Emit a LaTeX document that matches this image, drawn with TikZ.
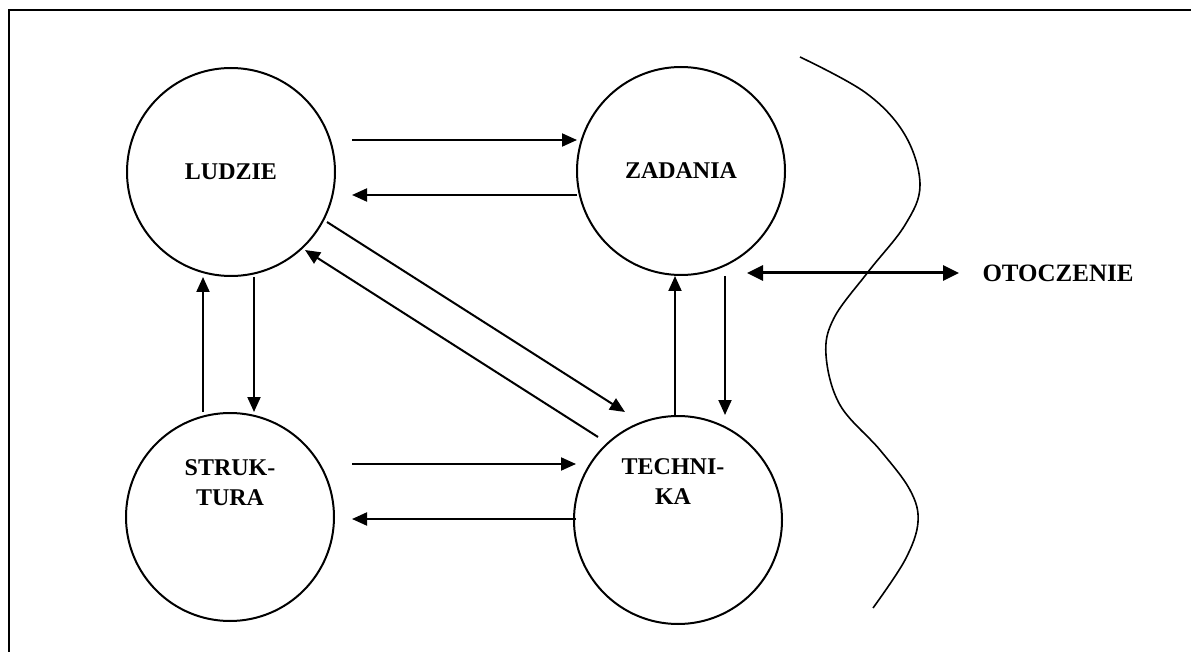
\documentclass[tikz,border=0pt]{standalone}
\usepackage{fontspec}
\setmainfont{Liberation Serif}
\usetikzlibrary{arrows.meta,calc}
\begin{document}
\begin{tikzpicture}[x=1pt,y=-1pt,
  element/.style={circle,draw,line width=2pt,minimum size=208pt,inner sep=0pt},
  caption/.style={align=center,inner sep=0pt,font=\fontsize{24}{30}\selectfont\bfseries},
  flow/.style={line width=2pt,-{Triangle[length=15pt,width=13pt]}},
  link/.style={line width=3pt,{Triangle[length=16pt,width=15pt]}-{Triangle[length=16pt,width=15pt]}}]
\useasboundingbox (0,0) rectangle (1191,652);
% frame edges
\draw[line width=2.2pt] (9,652) -- (9,10) -- (1191,10);

% the four elements
\node[element] (L) at (231,172) {};
\node[element] (Z) at (681,171) {};
\node[element] (S) at (230,517) {};
\node[element] (T) at (678,520) {};
\node[caption] (Lt) at (L.center) {LUDZIE};
\node[caption] (Zt) at (Z.center) {ZADANIA};
\node[caption] (St) at ($(S.center)+(0,-34)$) {STRUK-\\TURA};
\node[caption] (Tt) at ($(T.center)+(-5,-38)$) {TECHNI-\\KA};

% horizontal flows
\draw[flow] ($(L.center)+(121,-32)$) -- ($(Z.center)+(-104,-31)$);
\draw[flow] ($(Z.center)+(-104,24)$) -- ($(L.center)+(121,23)$);
\draw[flow] ($(S.center)+(122,-53)$) -- ($(T.center)+(-102,-56)$);
\draw[flow] ($(T.center)+(-102,-1)$) -- ($(S.center)+(122,2)$);

% vertical flows
\draw[flow] ([xshift=23pt]L.south) -- ([xshift=24pt]S.north);
\draw[flow] ([xshift=-27pt]S.north) -- ([xshift=-28pt]L.south);
\draw[flow] ([xshift=-3pt]T.north) -- ([xshift=-6pt]Z.south);
\draw[flow] ([xshift=44pt]Z.south) -- ([xshift=47pt]T.north);

% diagonal flows
\draw[flow] ($(L.center)+(96,50)$) -- ($(T.center)+(-53,-108)$);
\draw[flow] ($(T.center)+(-80,-83)$) -- ($(L.center)+(74,78)$);

% environment
\coordinate (E) at ($(Z.center)+(66,102)$);
\node[anchor=west,font=\fontsize{25}{30}\selectfont\bfseries] (O) at (979,273) {OTOCZENIE};
\draw[link] (E) -- ([xshift=-20pt]O.west);

% boundary of the system
\draw[line width=1.6pt] plot[smooth,tension=0.6] coordinates {
  (800,57) (866,93) (905,135) (920,185) (905,225) (868,272) (834,318)
  (826,355) (840,405) (880,450) (910,490) (918,522) (905,560) (873,608)};
\end{tikzpicture}
\end{document}
